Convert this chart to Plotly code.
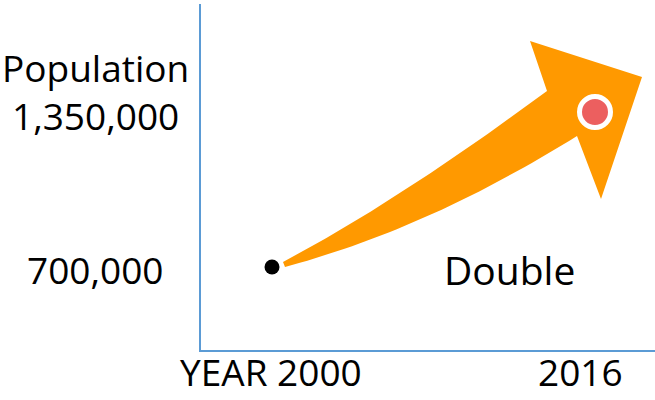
import numpy as np
import plotly.graph_objects as go

# ---- data ----
years = [2000, 2016]
population = [700000, 1350000]
x_tick_labels = ["YEAR 2000", "2016"]
y_tick_labels = ["700,000", "Population<br>1,350,000"]
note_text = "Double"

# ---- layout constants ----
W, H = 655, 400
ML, MR, MT, MB = 201, 0, 4, 50
PW, PH = W - ML - MR, H - MT - MB
x_range = [1996.483, 2018.972]
y_range = [351935, 1802903]
kx = PW / (x_range[1] - x_range[0])
ky = PH / (y_range[1] - y_range[0])

AXIS_BLUE = "#5B9BD5"
ORANGE = "#FF9900"
RED = "#EC5F5F"
FONT = "Open Sans, Lato, Liberation Sans, sans-serif"


def off(pt, dx, dy):
    """Offset a data point by a pixel amount (dy positive = down)."""
    return (pt[0] + dx / kx, pt[1] - dy / ky)


def bez(p0, c, p2, n=40):
    t = np.linspace(0, 1, n)
    x = (1 - t) ** 2 * p0[0] + 2 * (1 - t) * t * c[0] + t ** 2 * p2[0]
    y = (1 - t) ** 2 * p0[1] + 2 * (1 - t) * t * c[1] + t ** 2 * p2[1]
    return list(x), list(y)


A = (years[0], population[0])
B = (years[1], population[1])

tail_u = off(A, 11, -5)
ctrl_u = off(A, 128, -67)
notch_u = off(B, -48, -21)
wing_l = off(B, -65, -71)
tip = off(B, 47, -35)
wing_b = off(B, 6, 87)
notch_l = off(B, -18, 24)
ctrl_l = off(A, 158, -39)
tail_l = off(A, 13, 0)

ux, uy = bez(tail_u, ctrl_u, notch_u)
lx, ly = bez(notch_l, ctrl_l, tail_l)
ax = ux + [wing_l[0], tip[0], wing_b[0]] + lx + [tail_u[0]]
ay = uy + [wing_l[1], tip[1], wing_b[1]] + ly + [tail_u[1]]

fig = go.Figure()
fig.add_trace(go.Scatter(x=ax, y=ay, mode="lines", fill="toself",
                         fillcolor=ORANGE, line=dict(width=0, color=ORANGE),
                         hoverinfo="skip", showlegend=False))
fig.add_trace(go.Scatter(x=[years[0]], y=[population[0]], mode="markers",
                         marker=dict(size=15, color="black"),
                         showlegend=False))
fig.add_trace(go.Scatter(x=[years[1]], y=[population[1]], mode="markers",
                         marker=dict(size=31, color=RED,
                                     line=dict(width=5, color="white")),
                         showlegend=False))

# x labels (box bottom kept just inside the figure edge)
x_shifts = [-1, -15]
for xv, lab, sh in zip(years, x_tick_labels, x_shifts):
    fig.add_annotation(x=xv, y=-(MB - 1) / PH, xref="x", yref="paper",
                       text=lab, showarrow=False, xanchor="center",
                       yanchor="bottom", xshift=sh,
                       font=dict(family=FONT, size=37, color="black"))
# y labels
y_shifts = [-2, 21]
for yv, lab, sh in zip(population, y_tick_labels, y_shifts):
    fig.add_annotation(x=0, y=yv, xref="paper", yref="y", text=lab,
                       showarrow=False, xanchor="center", yanchor="middle",
                       xshift=95 - ML, yshift=sh,
                       font=dict(family=FONT, size=37, color="black"))

fig.add_annotation(x=years[1], y=population[0], xref="x", yref="y",
                   text=note_text, showarrow=False, xanchor="center",
                   yanchor="middle", xshift=509 - 595, yshift=-2,
                   font=dict(family=FONT, size=39, color="black"))

fig.update_layout(
    width=W, height=H,
    margin=dict(l=ML, r=MR, t=MT, b=MB),
    paper_bgcolor="white", plot_bgcolor="white",
    showlegend=False,
    xaxis=dict(range=x_range, showgrid=False, zeroline=False,
               showticklabels=False, showline=True, linecolor=AXIS_BLUE,
               linewidth=1.5, ticks=""),
    yaxis=dict(range=y_range, showgrid=False, zeroline=False,
               showticklabels=False, showline=True, linecolor=AXIS_BLUE,
               linewidth=1.5, ticks=""),
)

fig.write_html("out.html", config={"displayModeBar": False},
               post_script="document.body.style.margin='0';")
